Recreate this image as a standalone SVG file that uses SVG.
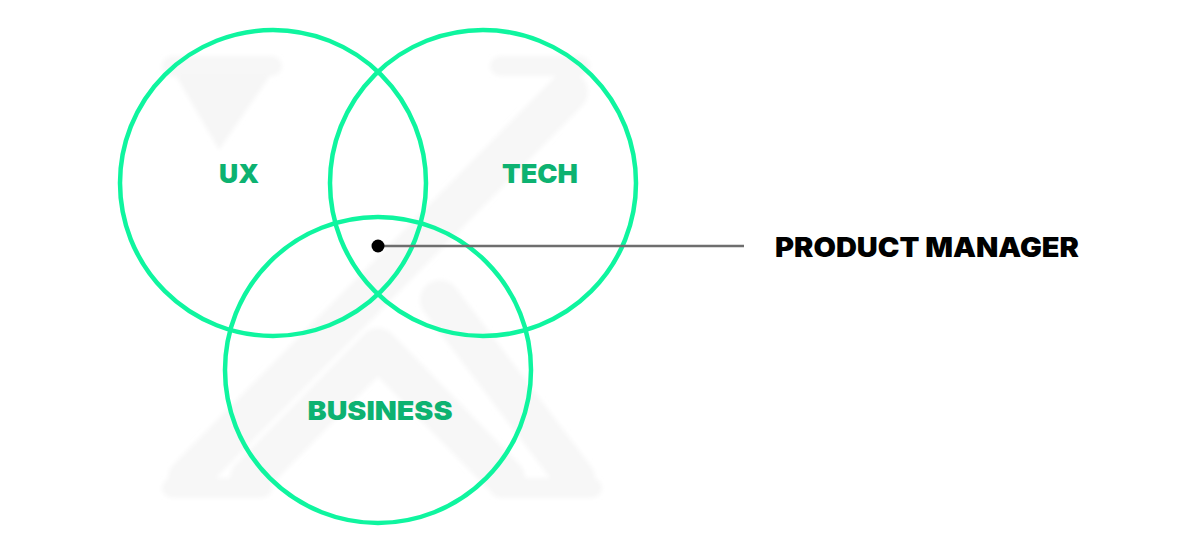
<svg xmlns="http://www.w3.org/2000/svg" width="1200" height="557" viewBox="0 0 1200 557">
  <defs>
    <style>
      .ring { fill: none; stroke: #0ff59f; stroke-width: 4.5; }
      .lbl { font-family: Inter, "Liberation Sans", sans-serif; font-weight: 900; fill: #0db271; text-anchor: middle; }
      .pm { font-family: Inter, "Liberation Sans", sans-serif; font-weight: 900; fill: #000; }
      .wm { fill: none; stroke: #f7f7f7; stroke-width: 40; stroke-linecap: round; stroke-linejoin: round; }
    </style>
    <filter id="soft" x="-10%" y="-10%" width="120%" height="120%">
      <feGaussianBlur stdDeviation="2"/>
    </filter>
  </defs>
  <rect width="1200" height="557" fill="#ffffff"/>
  <g id="watermark" filter="url(#soft)">
    <rect x="162" y="56" width="120" height="20" rx="10" fill="#f7f7f7"/>
    <polygon points="176,76 270,76 219,150" fill="#f6f6f6"/>
    <rect x="490" y="56" width="100" height="20" rx="10" fill="#f7f7f7"/>
    <line class="wm" x1="568" y1="92" x2="188" y2="478"/>
    <line class="wm" x1="440" y1="300" x2="575" y2="478"/>
    <polyline class="wm" points="250,478 378,348 505,478"/>
    <rect x="162" y="478" width="110" height="20" rx="10" fill="#f7f7f7"/>
    <rect x="490" y="478" width="112" height="20" rx="10" fill="#f7f7f7"/>
  </g>
  <g id="ux">
    <circle class="ring" cx="273" cy="183" r="153"/>
    <text class="lbl" x="239" y="183" font-size="26" textLength="40" lengthAdjust="spacingAndGlyphs">UX</text>
  </g>
  <g id="tech">
    <circle class="ring" cx="483" cy="183" r="153"/>
    <text class="lbl" x="540" y="183" font-size="26" textLength="76" lengthAdjust="spacingAndGlyphs">TECH</text>
  </g>
  <g id="business">
    <circle class="ring" cx="378" cy="370" r="153"/>
    <text class="lbl" x="380" y="420" font-size="26" textLength="145" lengthAdjust="spacingAndGlyphs">BUSINESS</text>
  </g>
  <g id="connectors">
    <line x1="378" y1="246" x2="744" y2="246" stroke="#6e6e6e" stroke-width="2.5"/>
    <circle cx="378" cy="246" r="6.5" fill="#000"/>
  </g>
  <g id="product-manager">
    <text class="pm" x="775" y="257" font-size="27" textLength="304" lengthAdjust="spacingAndGlyphs">PRODUCT MANAGER</text>
  </g>
</svg>
